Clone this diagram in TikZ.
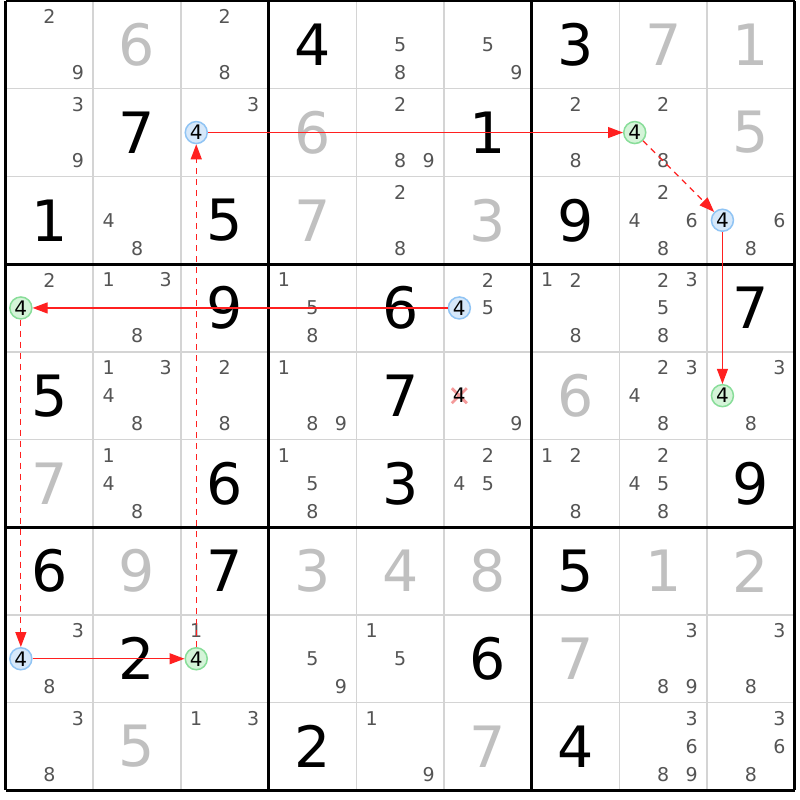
\documentclass[tikz,border=0pt]{standalone}
\usepackage{fontspec}
\setmainfont{DejaVu Sans}
\usetikzlibrary{arrows.meta}
\definecolor{candgray}{HTML}{555555}
\definecolor{solvedgray}{HTML}{C0C0C0}
\definecolor{gridgray}{HTML}{D4D4D4}
\definecolor{bluefill}{HTML}{D6E8FA}
\definecolor{bluedraw}{HTML}{90C4F4}
\definecolor{greenfill}{HTML}{D4F4D8}
\definecolor{greendraw}{HTML}{88DD99}
\definecolor{linkred}{HTML}{FF2020}
\definecolor{crossred}{HTML}{F49A9A}
\begin{document}
\begin{tikzpicture}[x=1pt,y=-1pt,
  cand/.style={font=\fontsize{19}{19}\selectfont, text=candgray, inner sep=0pt},
  given/.style={font=\fontsize{57}{57}\selectfont, text=black, inner sep=0pt},
  placed/.style={given, text=solvedgray},
  bluec/.style={circle, draw=bluedraw, fill=bluefill, line width=1.5pt, minimum size=22pt, inner sep=0pt, font=\fontsize{20}{20}\selectfont, text=black},
  greenc/.style={bluec, draw=greendraw, fill=greenfill},
  link/.style={draw=linkred, line width=1.2pt, -{Triangle[length=15pt,width=11pt]}},
  weak/.style={link, dash pattern=on 6pt off 5pt},
  thinline/.style={draw=gridgray, line width=1.5pt},
  thickline/.style={draw=black, line width=3pt}
]
\def\X{5.5}\def\Y{1}\def\C{87.7}
\fill[white] (0,0) rectangle (800,800);
\useasboundingbox (0,0) rectangle (800,800);

% grid
\foreach \i in {1,2,4,5,7,8} {
  \draw[thinline] ({\X+\i*\C},\Y) -- ({\X+\i*\C},{\Y+9*\C});
  \draw[thinline] (\X,{\Y+\i*\C}) -- ({\X+9*\C},{\Y+\i*\C});
}
\foreach \i in {0,3,6,9} {
  \draw[thickline] ({\X+\i*\C},\Y) -- ({\X+\i*\C},{\Y+9*\C});
  \draw[thickline] (\X,{\Y+\i*\C}) -- ({\X+9*\C},{\Y+\i*\C});
}

% given digits
\foreach \r/\c/\d in {1/4/4,1/7/3,2/2/7,2/6/1,3/1/1,3/3/5,3/7/9,4/3/9,4/5/6,4/9/7,5/1/5,5/5/7,6/3/6,6/5/3,6/9/9,7/1/6,7/3/7,7/7/5,8/2/2,8/6/6,9/4/2,9/7/4}
  \node[given] (g\r\c) at ({\X+(\c-0.5)*\C},{\Y+(\r-0.5)*\C}) {\d};

% placed digits
\foreach \r/\c/\d in {1/2/6,1/8/7,1/9/1,2/4/6,2/9/5,3/4/7,3/6/3,5/7/6,6/1/7,7/2/9,7/4/3,7/5/4,7/6/8,7/8/1,7/9/2,8/7/7,9/2/5,9/6/7}
  \node[placed] (p\r\c) at ({\X+(\c-0.5)*\C},{\Y+(\r-0.5)*\C}) {\d};

% candidates
\foreach \r/\c/\d in {
  1/1/2,1/1/9,1/3/2,1/3/8,1/5/5,1/5/8,1/6/5,1/6/9,
  2/1/3,2/1/9,2/3/3,2/5/2,2/5/8,2/5/9,2/7/2,2/7/8,2/8/2,2/8/8,
  3/2/4,3/2/8,3/5/2,3/5/8,3/8/2,3/8/4,3/8/6,3/8/8,3/9/6,3/9/8,
  4/1/2,4/2/1,4/2/3,4/2/8,4/4/1,4/4/5,4/4/8,4/6/2,4/6/5,4/7/1,4/7/2,4/7/8,4/8/2,4/8/3,4/8/5,4/8/8,
  5/2/1,5/2/3,5/2/4,5/2/8,5/3/2,5/3/8,5/4/1,5/4/8,5/4/9,5/6/9,5/8/2,5/8/3,5/8/4,5/8/8,5/9/3,5/9/8,
  6/2/1,6/2/4,6/2/8,6/4/1,6/4/5,6/4/8,6/6/2,6/6/4,6/6/5,6/7/1,6/7/2,6/7/8,6/8/2,6/8/4,6/8/5,6/8/8,
  8/1/3,8/1/8,8/3/1,8/4/5,8/4/9,8/5/1,8/5/5,8/8/3,8/8/8,8/8/9,8/9/3,8/9/8,
  9/1/3,9/1/8,9/3/1,9/3/3,9/5/1,9/5/9,9/8/3,9/8/6,9/8/8,9/8/9,9/9/3,9/9/6,9/9/8}
{
  \pgfmathtruncatemacro\cx{mod(\d-1,3)}
  \pgfmathtruncatemacro\cy{floor((\d-1)/3)}
  \node[cand] (k\r\c\d) at ({\X+(\c-0.5)*\C+(\cx-1)*28.5},{\Y+(\r-0.5)*\C+(\cy-1)*28}) {\d};
}

% eliminated candidate
\coordinate (xc) at ({\X+5.5*\C-28.5},{\Y+4.5*\C});
\draw[crossred, line width=2.8pt] ([shift={(-7.5,-7.5)}]xc) -- ([shift={(7.5,7.5)}]xc)
  ([shift={(-7.5,7.5)}]xc) -- ([shift={(7.5,-7.5)}]xc);
\node[cand, text=black, font=\fontsize{20}{20}\selectfont] (k564) at (xc) {4};

% highlighted candidates
\node[bluec]  (b1) at ({\X+2.5*\C-28.5},{\Y+1.5*\C}) {4};
\node[greenc] (e1) at ({\X+7.5*\C-28.5},{\Y+1.5*\C}) {4};
\node[bluec]  (b2) at ({\X+8.5*\C-28.5},{\Y+2.5*\C}) {4};
\node[greenc] (e2) at ({\X+8.5*\C-28.5},{\Y+4.5*\C}) {4};
\node[bluec]  (b3) at ({\X+5.5*\C-28.5},{\Y+3.5*\C}) {4};
\node[greenc] (e3) at ({\X+0.5*\C-28.5},{\Y+3.5*\C}) {4};
\node[bluec]  (b4) at ({\X+0.5*\C-28.5},{\Y+7.5*\C}) {4};
\node[greenc] (e4) at ({\X+2.5*\C-28.5},{\Y+7.5*\C}) {4};

% links
\draw[link] (b1) -- (e1);
\draw[weak] (e1) -- (b2);
\draw[link] (b2) -- (e2);
\draw[link] (b3) -- (e3);
\draw[weak] (e3) -- (b4);
\draw[link] (b4) -- (e4);
\draw[weak] (e4) -- (b1);
\end{tikzpicture}
\end{document}
